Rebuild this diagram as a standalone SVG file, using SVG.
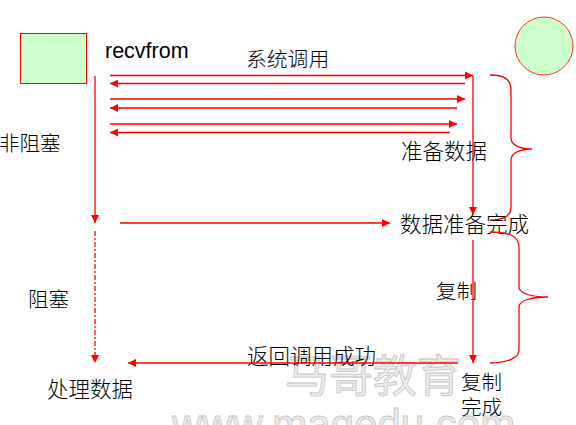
<svg xmlns="http://www.w3.org/2000/svg" width="576" height="425" viewBox="0 0 576 425">
<defs>
<style>
.ln{stroke:#FF0000;stroke-width:1.3;fill:none}
.t{font-family:"Noto Sans CJK SC","Liberation Sans",sans-serif;font-size:21.5px;fill:#000;font-weight:300}
.en{font-family:"Liberation Sans",Arial,sans-serif;font-size:21.5px;fill:#000}
.wm{font-family:"Liberation Sans","Noto Sans CJK SC",sans-serif;fill:#ececec;stroke:#c4c4c4;stroke-width:0.8}
</style>
<marker id="ah" viewBox="0 0 10 10" refX="10" refY="5" markerWidth="9" markerHeight="8" markerUnits="userSpaceOnUse" orient="auto">
<path d="M0,0 L10,5 L0,10 Z" fill="#FF0000"/>
</marker>
</defs>
<rect width="576" height="425" fill="#fff"/>
<g id="watermark">
<text class="wm" x="285" y="392" font-size="44">马哥教育</text>
<text class="wm" x="172" y="439" font-size="42">www.magedu.com</text>
</g>
<g id="user-box"><rect x="20.5" y="33.5" width="66" height="50" fill="#CCFFCC" stroke="#FF0000" stroke-width="1"/></g>
<g id="kernel-circle"><circle cx="544" cy="46" r="29" fill="#CCFFCC" stroke="#FF3030" stroke-width="1"/></g>
<g id="labels">
<text class="en" x="105" y="58">recvfrom</text>
<text class="t" x="246" y="67" style="font-size:20.8px">系统调用</text>
<text class="t" x="-1" y="151" style="font-size:20.5px">非阻塞</text>
<text class="t" x="401" y="159">准备数据</text>
<text class="t" x="400" y="232">数据准备完成</text>
<text class="t" x="28" y="307" style="font-size:20.5px">阻塞</text>
<text class="t" x="436" y="299" style="font-size:20.5px">复制</text>
<text class="t" x="247" y="364">返回调用成功</text>
<text class="t" x="47" y="397">处理数据</text>
<text class="t" x="461" y="390" style="font-size:20.5px">复制</text>
<text class="t" x="461" y="415" style="font-size:20.5px">完成</text>
</g>
<g id="connectors">
<line class="ln" x1="95" y1="76" x2="95" y2="223" marker-end="url(#ah)"/>
<line class="ln" x1="95" y1="231" x2="95" y2="363" stroke-dasharray="5 2 2 2" marker-end="url(#ah)"/>
<line class="ln" x1="110" y1="75.5" x2="473" y2="75.5" marker-end="url(#ah)"/>
<line class="ln" x1="465" y1="83.5" x2="110" y2="83.5" marker-end="url(#ah)"/>
<line class="ln" x1="110" y1="99" x2="465" y2="99" marker-end="url(#ah)"/>
<line class="ln" x1="457" y1="108" x2="110" y2="108" marker-end="url(#ah)"/>
<line class="ln" x1="110" y1="124" x2="457" y2="124" marker-end="url(#ah)"/>
<line class="ln" x1="450" y1="132.5" x2="110" y2="132.5" marker-end="url(#ah)"/>
<line class="ln" x1="473" y1="76" x2="473" y2="215" marker-end="url(#ah)"/>
<line class="ln" x1="120" y1="223" x2="390" y2="223" marker-end="url(#ah)"/>
<line class="ln" x1="473" y1="240" x2="473" y2="363" marker-end="url(#ah)"/>
<line class="ln" x1="458" y1="363" x2="128" y2="363" marker-end="url(#ah)"/>
<path class="ln" stroke="#FF7070" d="M490,75 C504,75 511,79 511,90 L511,138 C511,145 520,149 532,149 C520,149 511,153 511,160 L511,207 C511,216 503,220 490,220"/>
<path class="ln" d="M490,232 C510,232 519,236 519,248 L519,287 C519,293 530,297 548,297 C530,297 519,301 519,307 L519,350 C519,359 505,363 490,363"/>
</g>
</svg>
